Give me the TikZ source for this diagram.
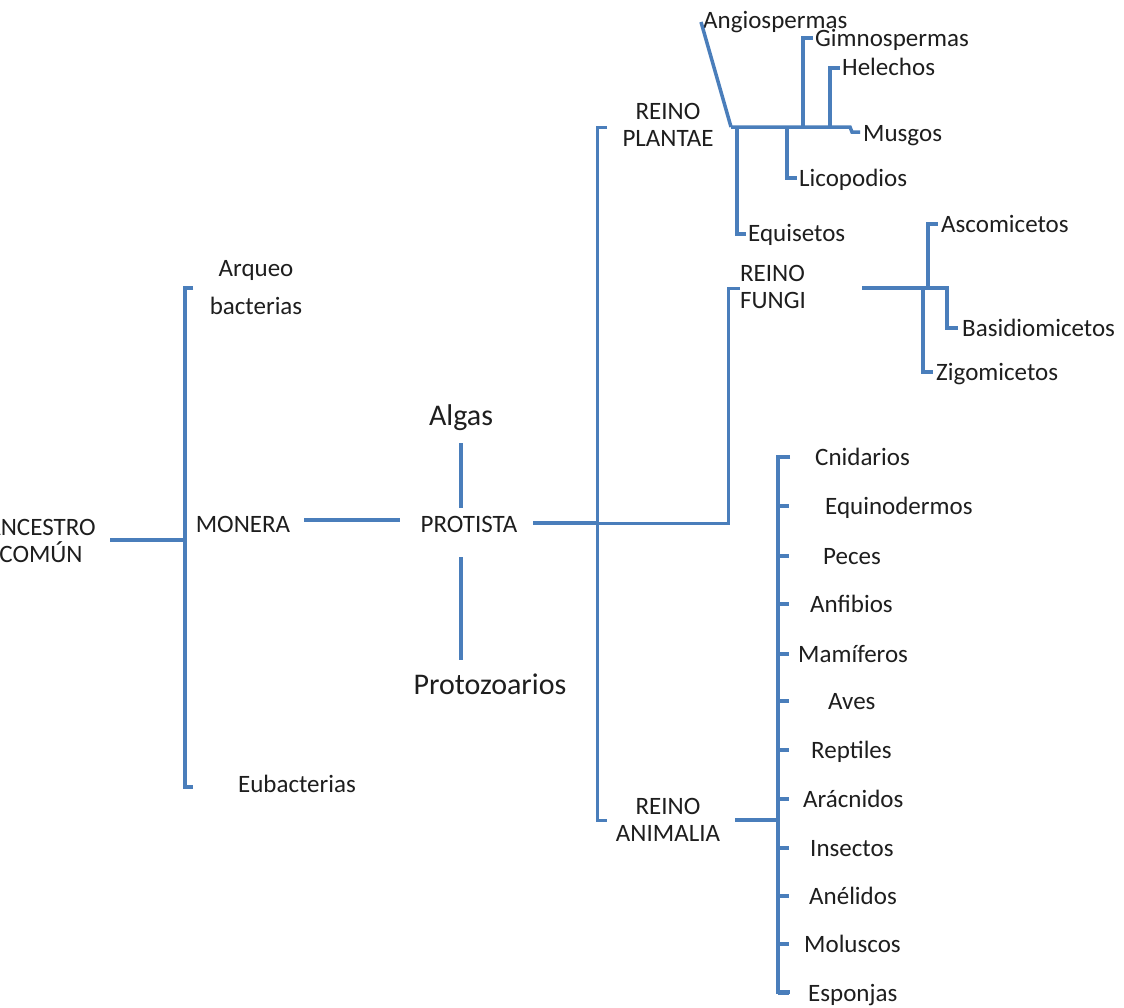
\documentclass[tikz,border=0pt]{standalone}
\usepackage{fontspec}
\setmainfont{Carlito}
\definecolor{ln}{HTML}{4A7EBB}
\definecolor{tx}{HTML}{1E1E1E}
\begin{document}
\begin{tikzpicture}[x=1pt,y=-1pt,
  br/.style={draw=ln,line width=3.5pt,line cap=butt,line join=miter},
  thin/.style={draw=ln,line width=3pt},
  lbl/.style={text=tx,inner sep=0pt,font=\fontsize{25}{30}\selectfont},
  big/.style={text=tx,inner sep=0pt,font=\fontsize{30}{36}\selectfont},
  lw/.style={lbl,anchor=mid west,yshift=-6pt}]
\useasboundingbox[fill=white] (0,0) rectangle (1124,1007);
% ---- left part
\node[lbl,align=center] (anc) at (41,541) {ANCESTRO\\[-3pt]COMÚN};
\node[lbl] (arq1) at (256,270) {Arqueo};
\node[lbl] (arq2) at (256,306) {bacterias};
\node[lbl] (mon) at (243,524) {MONERA};
\node[lbl] (eub) at (297,784) {Eubacterias};
\coordinate (a1) at (110,540);
\coordinate (a2) at (185,540);
\coordinate (b1) at (193,288);
\coordinate (b2) at (185,288);
\coordinate (b3) at (185,787);
\coordinate (b4) at (193,787);
\draw[thin,line width=3.3pt] (a1) -- (a2);
\draw[br] (b1) -- (b2) -- (b3) -- (b4);
% ---- protista
\node[lbl] (pro) at (469,524) {PROTISTA};
\node[big] (alg) at (461,418) {Algas};
\node[big] (prz) at (490,684) {Protozoarios};
\coordinate (m1) at (304,520);
\coordinate (m2) at (400,520);
\draw[br] (m1) -- (m2);
\coordinate (al1) at (461,443);
\coordinate (al2) at (461,508);
\coordinate (pz1) at (461,557);
\coordinate (pz2) at (461,660);
\draw[br] (al1) -- (al2);
\draw[br] (pz1) -- (pz2);
\coordinate (p1) at (533,523);
\coordinate (p2) at (597,523);
\coordinate (f1) at (728,523);
\coordinate (f2) at (728,288);
\coordinate (f3) at (740,288);
\draw[br] (p1) -- (p2);
\draw[thin] (p2) -- (f1) -- (f2) -- (f3);
% big bracket
\coordinate (k1) at (607,127);
\coordinate (k2) at (597,127);
\coordinate (k3) at (597,820);
\coordinate (k4) at (607,820);
\draw[thin] (k1) -- (k2) -- (k3) -- (k4);
\node[lbl,align=center] (pla) at (668,125) {REINO\\[-3pt]PLANTAE};
\node[lbl,align=left] (fun) at (773,287) {REINO\\[-3pt]FUNGI};
\node[lbl,align=center] (ani) at (668,820) {REINO\\[-3pt]ANIMALIA};
% ---- plantae
\node[lw] (ang) at (703,20) {Angiospermas};
\node[lw] (gim) at (815,38) {Gimnospermas};
\node[lw] (hel) at (842,67) {Helechos};
\node[lw] (mus) at (863,133) {Musgos};
\node[lw] (lic) at (799,178) {Licopodios};
\node[lw] (equ) at (748,233) {Equisetos};
\coordinate (angc) at (701,22);
\coordinate (r0) at (731,127);
\coordinate (r1) at (850,127);
\coordinate (r2) at (852,132);
\coordinate (r3) at (860,132);
\draw[br] (angc) -- (r0);
\draw[br] (r0) -- (r1) -- (r2) -- (r3);
\coordinate (g0) at (803,127);
\coordinate (g1) at (803,38);
\coordinate (g2) at (813,38);
\draw[br] (g0) -- (g1) -- (g2);
\coordinate (h0) at (830,127);
\coordinate (h1) at (830,68);
\coordinate (h2) at (840,68);
\draw[br] (h0) -- (h1) -- (h2);
\coordinate (l0) at (787,127);
\coordinate (l1) at (787,178);
\coordinate (l2) at (797,178);
\draw[br] (l0) -- (l1) -- (l2);
\coordinate (e0) at (737,127);
\coordinate (e1) at (737,234);
\coordinate (e2) at (746,234);
\draw[br] (e0) -- (e1) -- (e2);
% ---- fungi
\node[lw] (asc) at (941,224) {Ascomicetos};
\node[lw] (bas) at (962,328) {Basidiomicetos};
\node[lw] (zig) at (936,372) {Zigomicetos};
\coordinate (q0) at (862,288);
\coordinate (q1) at (947,288);
\coordinate (q2) at (947,328);
\coordinate (q3) at (958,328);
\draw[br] (q0) -- (q1) -- (q2) -- (q3);
\coordinate (s0) at (928,288);
\coordinate (s1) at (928,224);
\coordinate (s2) at (938,224);
\draw[br] (s0) -- (s1) -- (s2);
\coordinate (z0) at (923,288);
\coordinate (z1) at (923,372);
\coordinate (z2) at (933,372);
\draw[br] (z0) -- (z1) -- (z2);
% ---- animalia
\coordinate (n0) at (735,820);
\coordinate (n1) at (778,820);
\draw[br,line width=4.5pt] (n0) -- (n1);
\coordinate (v0) at (790,457);
\coordinate (v1) at (778,457);
\coordinate (v2) at (778,992);
\coordinate (v3) at (790,992);
\draw[br] (v0) -- (v1) -- (v2) -- (v3);
\foreach \nm/\t/\y/\lx in {cni/Cnidarios/457/815, equi/Equinodermos/506/825, pec/Peces/556/823, anf/Anfibios/604/810, mam/Mamíferos/654/798, ave/Aves/701/828, rep/Reptiles/750/811, ara/Arácnidos/799/803, ins/Insectos/848/810, ane/Anélidos/896/809, mol/Moluscos/944/804, esp/Esponjas/993/808}{
  \node[lw] (\nm) at (\lx,\y) {\t};
  \coordinate (t\nm) at (789,\y);
  \draw[br,line width=3.5pt] (v1 |- t\nm) -- (t\nm);
}
\end{tikzpicture}
\end{document}
